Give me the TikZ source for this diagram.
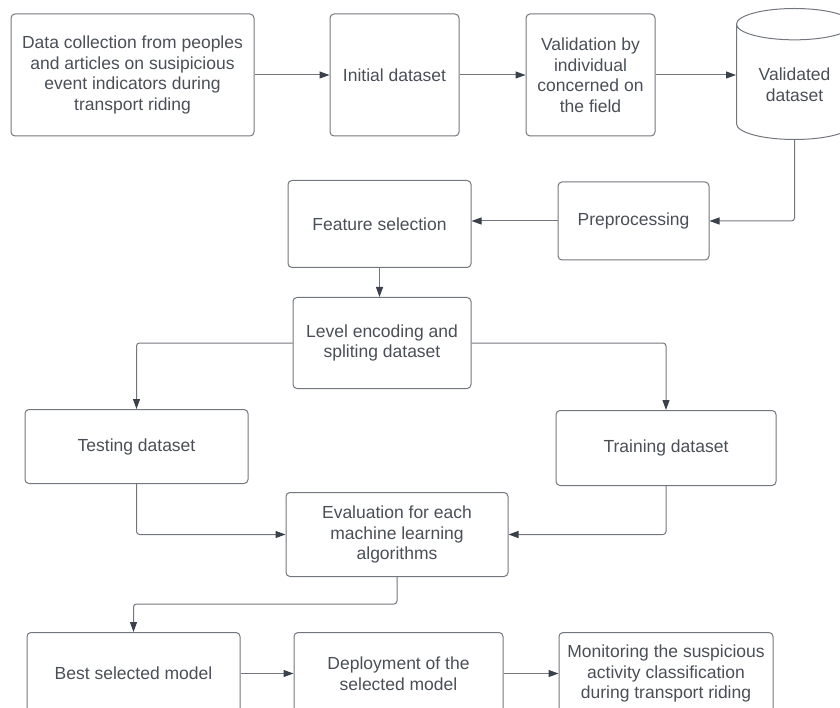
\documentclass[tikz,border=0pt]{standalone}
\usepackage{fontspec}
\setmainfont{Liberation Sans}
\usetikzlibrary{positioning, shapes.geometric, arrows.meta}

\definecolor{boxline}{HTML}{73777D}
\definecolor{boxtext}{HTML}{4A4F57}
\definecolor{tipgray}{HTML}{3A414A}

\begin{document}
\begin{tikzpicture}[
x=1pt, y=-1pt,
flowbox/.style={rectangle, rounded corners=4pt, draw=boxline, line width=1pt, text=boxtext, align=center, inner sep=2pt, font=\fontsize{17.5}{20.5}\selectfont},
dbnode/.style={cylinder, shape border rotate=90, aspect=0.4, draw=boxline, line width=1pt, text=boxtext, align=center, font=\fontsize{17.5}{20.5}\selectfont},
link/.style={draw=boxline, line width=1pt, rounded corners=3pt, -{Triangle[length=10pt,width=7pt,color=tipgray]}}
]
\useasboundingbox (0,0) rectangle (840,708);

\node[flowbox, minimum width=243pt, minimum height=122pt] (box_collect) at (132.5,75) {Data collection from peoples\\and articles on susipicious\\event indicators during\\transport riding};
\node[flowbox, minimum width=129pt, minimum height=122pt] (box_initial) [right=75pt of box_collect] {Initial dataset};
\node[flowbox, minimum width=129pt, minimum height=122pt] (box_valid) [right=66pt of box_initial] {Validation by\\individual\\concerned on\\the field};
\node[dbnode, minimum width=116pt, minimum height=131pt] (db_validated) [right=83pt of box_valid, anchor=shape center, xshift=56pt, yshift=1pt] {Validated\\dataset};

\node[flowbox, minimum width=151pt, minimum height=78pt] (box_preproc) [below=45pt of box_valid, xshift=43pt] {Preprocessing};
\node[flowbox, minimum width=183pt, minimum height=87pt] (box_feature) [left=86pt of box_preproc, yshift=-3pt] {Feature selection};
\node[flowbox, minimum width=178pt, minimum height=91pt] (box_level) [below=29pt of box_feature, xshift=2.5pt] {Level encoding and\\spliting dataset};

\node[flowbox, minimum width=223pt, minimum height=74pt] (box_testing) [below=20pt of box_level, xshift=-245.5pt] {Testing dataset};
\node[flowbox, minimum width=220pt, minimum height=75pt] (box_training) [below=21pt of box_level, xshift=284pt] {Training dataset};
\node[flowbox, minimum width=222pt, minimum height=84pt] (box_eval) [below right=8pt and 37pt of box_testing] {Evaluation for each\\machine learning\\algorithms};

\node[flowbox, minimum width=213pt, minimum height=82pt] (box_best) [below=55pt of box_eval, xshift=-263.5pt] {Best selected model};
\node[flowbox, minimum width=209pt, minimum height=82pt] (box_deploy) [right=53pt of box_best] {Deployment of the\\selected model};
\node[flowbox, minimum width=214pt, minimum height=82pt] (box_monitor) [right=55pt of box_deploy] {Monitoring the suspicious\\activity classification\\during transport riding};

% top row
\path[link] (box_collect) -- (box_initial);
\path[link] (box_initial) -- (box_valid);
\path[link] (box_valid) -- (box_valid -| db_validated.west);
\path[link] (db_validated.south) |- (box_preproc.east);
\path[link] (box_preproc.west) -- (box_preproc.west -| box_feature.east);
\path[link] (box_feature.south) -- (box_feature.south |- box_level.north);

% split
\path[link] (box_level.west) -| (box_testing.north);
\path[link] (box_level.east) -| (box_training.north);
\path[link] (box_testing.south) |- (box_eval.west);
\path[link] (box_training.south) |- (box_eval.east);

% bottom row
\path[link] (box_eval.south) -- ++(0,27) -| (box_best.north);
\path[link] (box_best) -- (box_deploy);
\path[link] (box_deploy) -- (box_monitor);

\end{tikzpicture}
\end{document}
